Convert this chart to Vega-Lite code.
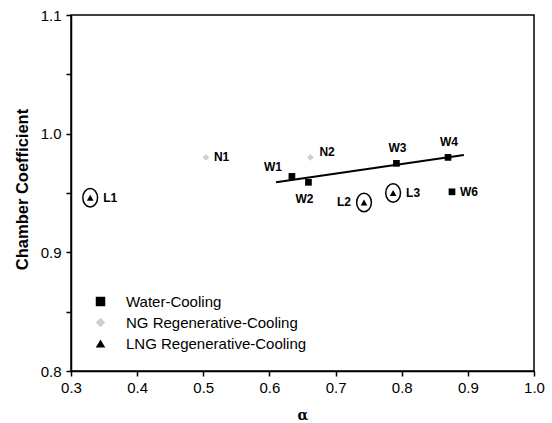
{
  "$schema": "https://vega.github.io/schema/vega-lite/v6.json",
  "autosize": "none",
  "width": 463,
  "height": 356,
  "padding": {"left": 71, "top": 15, "right": 18, "bottom": 52},
  "background": "white",
  "config": {
    "font": "Liberation Sans",
    "view": {"stroke": "black", "strokeWidth": 1.5},
    "axis": {"grid": false, "ticks": true, "domainColor": "black", "domainWidth": 1.5, "tickColor": "black", "labelColor": "black", "titleColor": "black"}
  },
  "datasets": {
    "points": [
      {"id": "L1", "type": "LNG Regenerative-Cooling", "alpha": 0.329, "coef": 0.946},
      {"id": "N1", "type": "NG Regenerative-Cooling", "alpha": 0.504, "coef": 0.980},
      {"id": "N2", "type": "NG Regenerative-Cooling", "alpha": 0.662, "coef": 0.980},
      {"id": "W1", "type": "Water-Cooling", "alpha": 0.634, "coef": 0.964},
      {"id": "W2", "type": "Water-Cooling", "alpha": 0.659, "coef": 0.959},
      {"id": "W3", "type": "Water-Cooling", "alpha": 0.792, "coef": 0.975},
      {"id": "W4", "type": "Water-Cooling", "alpha": 0.870, "coef": 0.980},
      {"id": "W6", "type": "Water-Cooling", "alpha": 0.876, "coef": 0.951},
      {"id": "L2", "type": "LNG Regenerative-Cooling", "alpha": 0.743, "coef": 0.942},
      {"id": "L3", "type": "LNG Regenerative-Cooling", "alpha": 0.787, "coef": 0.950}
    ],
    "fit": [
      {"alpha": 0.610, "coef": 0.959},
      {"alpha": 0.894, "coef": 0.982}
    ]
  },
  "layer": [
    {
      "data": {"name": "points"},
      "mark": {"type": "point", "filled": true, "opacity": 1},
      "encoding": {
        "x": {"field": "alpha", "type": "quantitative", "scale": {"domain": [0.3, 1.0], "nice": false, "zero": false},
          "axis": {"orient": "bottom", "title": "α", "titleFont": "DejaVu Serif", "titleFontSize": 14, "titleFontWeight": "bold", "titlePadding": 13,
            "values": [0.3, 0.35, 0.4, 0.45, 0.5, 0.55, 0.6, 0.65, 0.7, 0.75, 0.8, 0.85, 0.9, 0.95, 1.0],
            "labelExpr": "abs(datum.value*10 - round(datum.value*10)) > 0.01 ? '' : format(datum.value, '.1f')",
            "tickSize": 5,
            "tickWidth": 1.5,
            "labelFontSize": 15, "labelFontWeight": "normal", "labelPadding": 4, "labelFlush": false, "labelOverlap": false}},
        "y": {"field": "coef", "type": "quantitative", "scale": {"domain": [0.8, 1.1], "nice": false, "zero": false},
          "axis": {"orient": "left", "title": "Chamber Coefficient", "titleFontSize": 16.5, "titleFontWeight": "bold", "titleX": -49, "titleY": 174, "titleAngle": -90, "titleAlign": "center", "titleBaseline": "middle",
            "values": [0.8, 0.85, 0.9, 0.95, 1.0, 1.05, 1.1],
            "labelExpr": "abs(datum.value*10 - round(datum.value*10)) > 0.01 ? '' : format(datum.value, '.1f')",
            "tickSize": 5,
            "tickWidth": 1.5,
            "labelFontSize": 15, "labelFontWeight": "normal", "labelPadding": 5, "labelFlush": false, "labelOverlap": false}},
        "shape": {"field": "type", "type": "nominal",
          "scale": {"domain": ["Water-Cooling", "NG Regenerative-Cooling", "LNG Regenerative-Cooling"], "range": ["square", "diamond", "triangle-up"]},
          "legend": {"orient": "none", "legendX": 22, "legendY": 279, "title": null, "labelFontSize": 15, "labelColor": "black", "labelLimit": 0, "symbolSize": 90, "labelOffset": 18, "rowPadding": 5}},
        "color": {"field": "type", "type": "nominal",
          "scale": {"domain": ["Water-Cooling", "NG Regenerative-Cooling", "LNG Regenerative-Cooling"], "range": ["black", "#cfcfcf", "black"]}},
        "size": {"value": 45}
      }
    },
    {
      "data": {"name": "fit"},
      "mark": {"type": "line", "color": "black", "strokeWidth": 2},
      "encoding": {
        "x": {"field": "alpha", "type": "quantitative"},
        "y": {"field": "coef", "type": "quantitative"}
      }
    },
    {
      "data": {"name": "points"},
      "transform": [{"filter": {"field": "id", "oneOf": ["L1", "L2", "L3"]}}],
      "mark": {"type": "point", "shape": "M -0.8,0 A 0.8,1 0 1,0 0.8,0 A 0.8,1 0 1,0 -0.8,0 Z", "filled": false, "stroke": "black", "strokeWidth": 1.5, "size": 340, "opacity": 1},
      "encoding": {"x": {"field": "alpha", "type": "quantitative"}, "y": {"field": "coef", "type": "quantitative"}}
    },
    {
      "data": {"name": "points"},
      "transform": [{"filter": {"field": "id", "oneOf": ["L1", "L3"]}}],
      "mark": {"type": "text", "align": "left", "baseline": "middle", "dx": 13, "fontWeight": "bold", "fontSize": 12, "color": "black"},
      "encoding": {"x": {"field": "alpha", "type": "quantitative"}, "y": {"field": "coef", "type": "quantitative"}, "text": {"field": "id"}}
    },
    {
      "data": {"name": "points"},
      "transform": [{"filter": {"field": "id", "oneOf": ["N1", "W6"]}}],
      "mark": {"type": "text", "align": "left", "baseline": "middle", "dx": 8, "fontWeight": "bold", "fontSize": 12, "color": "black"},
      "encoding": {"x": {"field": "alpha", "type": "quantitative"}, "y": {"field": "coef", "type": "quantitative"}, "text": {"field": "id"}}
    },
    {
      "data": {"name": "points"},
      "transform": [{"filter": {"field": "id", "oneOf": ["N2"]}}],
      "mark": {"type": "text", "align": "left", "baseline": "middle", "dx": 9, "dy": -5, "fontWeight": "bold", "fontSize": 12, "color": "black"},
      "encoding": {"x": {"field": "alpha", "type": "quantitative"}, "y": {"field": "coef", "type": "quantitative"}, "text": {"field": "id"}}
    },
    {
      "data": {"name": "points"},
      "transform": [{"filter": {"field": "id", "oneOf": ["W3", "W4"]}}],
      "mark": {"type": "text", "align": "center", "baseline": "middle", "dx": 1, "dy": -15, "fontWeight": "bold", "fontSize": 12, "color": "black"},
      "encoding": {"x": {"field": "alpha", "type": "quantitative"}, "y": {"field": "coef", "type": "quantitative"}, "text": {"field": "id"}}
    },
    {
      "data": {"name": "points"},
      "transform": [{"filter": {"field": "id", "oneOf": ["W1"]}}],
      "mark": {"type": "text", "align": "center", "baseline": "middle", "dx": -19, "dy": -9, "fontWeight": "bold", "fontSize": 12, "color": "black"},
      "encoding": {"x": {"field": "alpha", "type": "quantitative"}, "y": {"field": "coef", "type": "quantitative"}, "text": {"field": "id"}}
    },
    {
      "data": {"name": "points"},
      "transform": [{"filter": {"field": "id", "oneOf": ["W2"]}}],
      "mark": {"type": "text", "align": "center", "baseline": "middle", "dx": -4, "dy": 17, "fontWeight": "bold", "fontSize": 12, "color": "black"},
      "encoding": {"x": {"field": "alpha", "type": "quantitative"}, "y": {"field": "coef", "type": "quantitative"}, "text": {"field": "id"}}
    },
    {
      "data": {"name": "points"},
      "transform": [{"filter": {"field": "id", "oneOf": ["L2"]}}],
      "mark": {"type": "text", "align": "right", "baseline": "middle", "dx": -13, "fontWeight": "bold", "fontSize": 12, "color": "black"},
      "encoding": {"x": {"field": "alpha", "type": "quantitative"}, "y": {"field": "coef", "type": "quantitative"}, "text": {"field": "id"}}
    }
  ]
}
